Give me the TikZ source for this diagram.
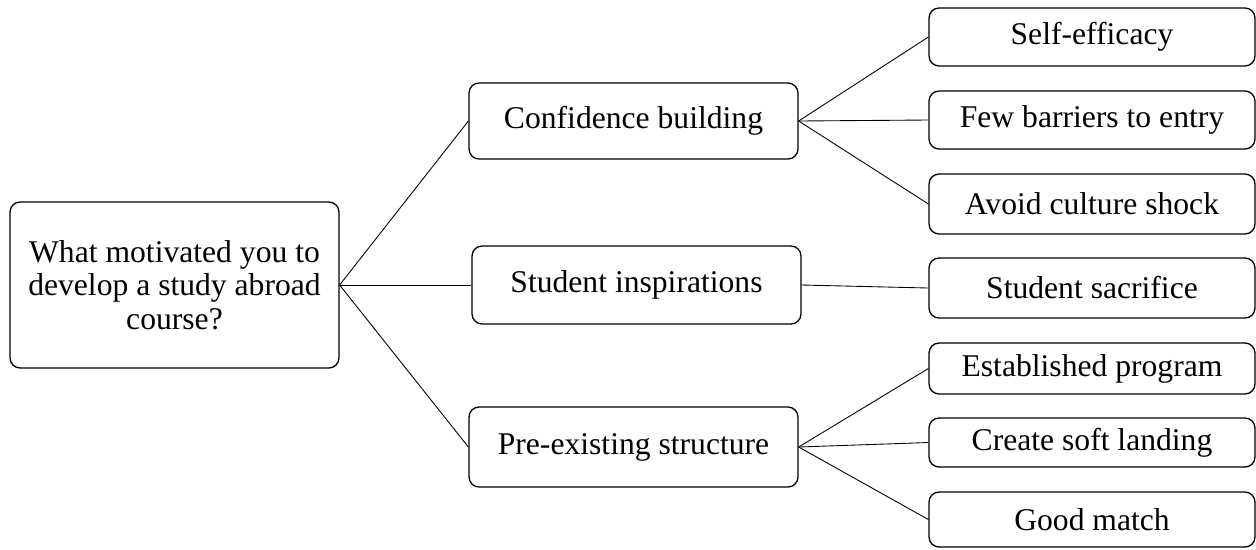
\documentclass[tikz,border=0pt]{standalone}
\usepackage{fontspec}
\setmainfont{Liberation Serif}

\begin{document}
\begin{tikzpicture}[x=0.02cm, y=-0.02cm,
  box/.style={draw, rounded corners=0.2cm, line width=0.75pt, inner sep=0pt, align=center,
    font=\fontsize{18}{19}\selectfont},
  mid/.style={box, minimum width=6.58cm},
  leaf/.style={box, minimum width=6.52cm},
  link/.style={line width=0.5pt}]
\useasboundingbox (0,0) rectangle (1256,549);
\node[box, minimum width=6.58cm, minimum height=3.32cm] (root) at (174.5,285) {What motivated you to\\develop a study abroad\\course?};
\node[mid, minimum height=1.52cm] (conf) at (633.5,121) {Confidence building};
\node[mid, minimum height=1.56cm] (insp) at (636.5,285) {Student inspirations};
\node[mid, minimum height=1.6cm] (pre) at (633.5,447) {Pre-existing structure};
\node[leaf, minimum height=1.16cm] (self) at (1092,37) {Self-efficacy};
\node[leaf, minimum height=1.16cm] (few) at (1092,120) {Few barriers to entry};
\node[leaf, minimum height=1.2cm] (avoid) at (1092,204) {Avoid culture shock};
\node[leaf, minimum height=1.2cm] (sacr) at (1092,288) {Student sacrifice};
\node[leaf, minimum height=1.02cm] (est) at (1092,368.5) {Established program};
\node[leaf, minimum height=0.98cm] (soft) at (1092,442.5) {Create soft landing};
\node[leaf, minimum height=1.1cm] (match) at (1092,519.5) {Good match};
\draw[link] (root.east) -- (conf.west);
\draw[link] (root.east) -- (insp.west);
\draw[link] (root.east) -- (pre.west);
\draw[link] (conf.east) -- (self.west);
\draw[link] (conf.east) -- (few.west);
\draw[link] (conf.east) -- (avoid.west);
\draw[link] (insp.east) -- (sacr.west);
\draw[link] (pre.east) -- (est.west);
\draw[link] (pre.east) -- (soft.west);
\draw[link] (pre.east) -- (match.west);
\end{tikzpicture}
\end{document}
